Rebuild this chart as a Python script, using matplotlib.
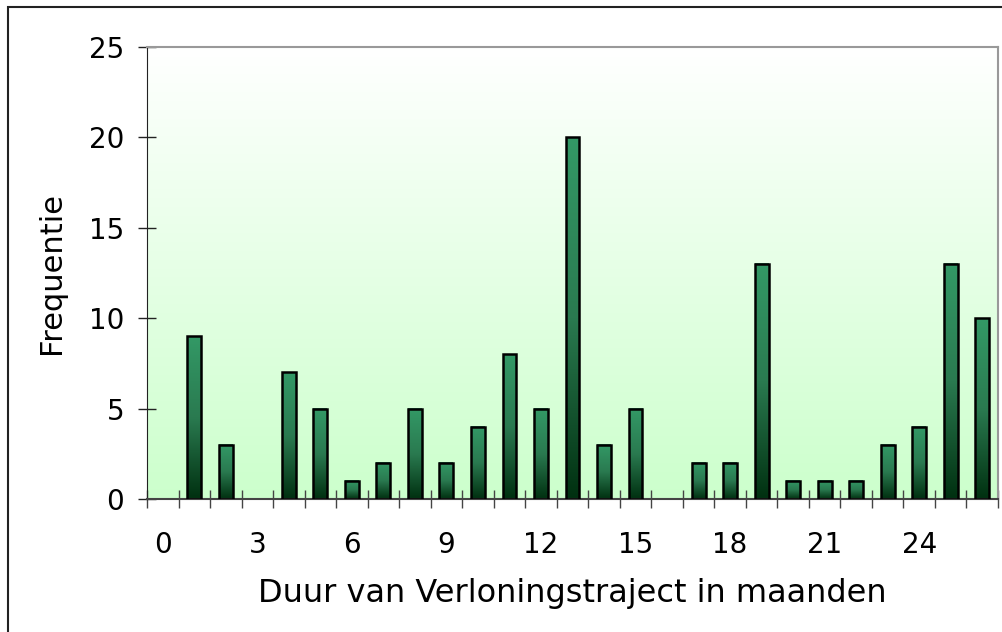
import matplotlib
matplotlib.use('Agg')
import matplotlib.pyplot as plt
import matplotlib.patches as mpatches
from matplotlib.colors import LinearSegmentedColormap
import numpy as np

months = list(range(27))
freq = [0, 9, 3, 0, 7, 5, 1, 2, 5, 2, 4, 8, 5, 20, 3, 5, 0, 2, 2, 13, 1, 1, 1, 3, 4, 13, 10]
xtick_labels = ['0', '3', '6', '9', '12', '15', '18', '21', '24']
yticks = [0, 5, 10, 15, 20, 25]

bg_cmap = LinearSegmentedColormap.from_list('bg', ['#ccffcc', '#ffffff'])
bar_cmap = LinearSegmentedColormap.from_list('bar', ['#003010', '#2a7a50', '#339966'])

fig = plt.figure(figsize=(10.03, 6.32), dpi=100)
ax = fig.add_axes([147 / 1003, 1 - 499 / 632, 851 / 1003, 452 / 632])

# outer chart border (right/bottom run off the picture)
fig.patches.append(mpatches.Rectangle((8 / 1003, -0.1), 1.2, 1 - 7 / 632 + 0.1,
                                      transform=fig.transFigure, fill=False,
                                      edgecolor='#222222', linewidth=1.5))

xmin, xmax = -0.5, len(months) - 0.5
ymin, ymax = 0, 25

# plot-area gradient
grad = np.linspace(0, 1, 256).reshape(-1, 1)
ax.imshow(grad, extent=[xmin, xmax, ymin, ymax], origin='lower', aspect='auto',
          cmap=bg_cmap, zorder=0)

width = 0.44
mx = [m for m, f in zip(months, freq) if f > 0]
fy = [f for f in freq if f > 0]
for m, f in zip(mx, fy):
    ax.imshow(grad, extent=[m - width / 2, m + width / 2, 0, f], origin='lower',
              aspect='auto', cmap=bar_cmap, zorder=2)
bars = ax.bar(mx, fy, width, facecolor='none', edgecolor='black', linewidth=1.8, zorder=3)

ax.set_xlim(xmin, xmax)
ax.set_ylim(ymin, ymax)

ax.set_yticks(yticks)
ax.set_yticklabels([str(v) for v in yticks], fontsize=20)
ax.set_xticks(np.arange(xmin, xmax + 0.01, 1.0))
ax.set_xticklabels([])
ax.set_xticks(months[::3], minor=True)
ax.set_xticklabels(xtick_labels, minor=True, fontsize=20)
ax.tick_params(axis='x', which='minor', length=0, pad=23)
ax.tick_params(axis='x', which='major', direction='inout', length=13, width=1, color='#444444')
ax.tick_params(axis='y', direction='inout', length=13, width=1, color='#222222', pad=10)

for s in ['top', 'right']:
    ax.spines[s].set_color('#999999')
    ax.spines[s].set_linewidth(1.5)
ax.spines['left'].set_color('#222222')
ax.spines['bottom'].set_color('#444444')
ax.spines['bottom'].set_linewidth(1.5)

ax.set_ylabel('Frequentie', fontsize=22, labelpad=16)
ax.set_xlabel('Duur van Verloningstraject in maanden', fontsize=23, labelpad=14)

fig.savefig('out.png', dpi=100)
